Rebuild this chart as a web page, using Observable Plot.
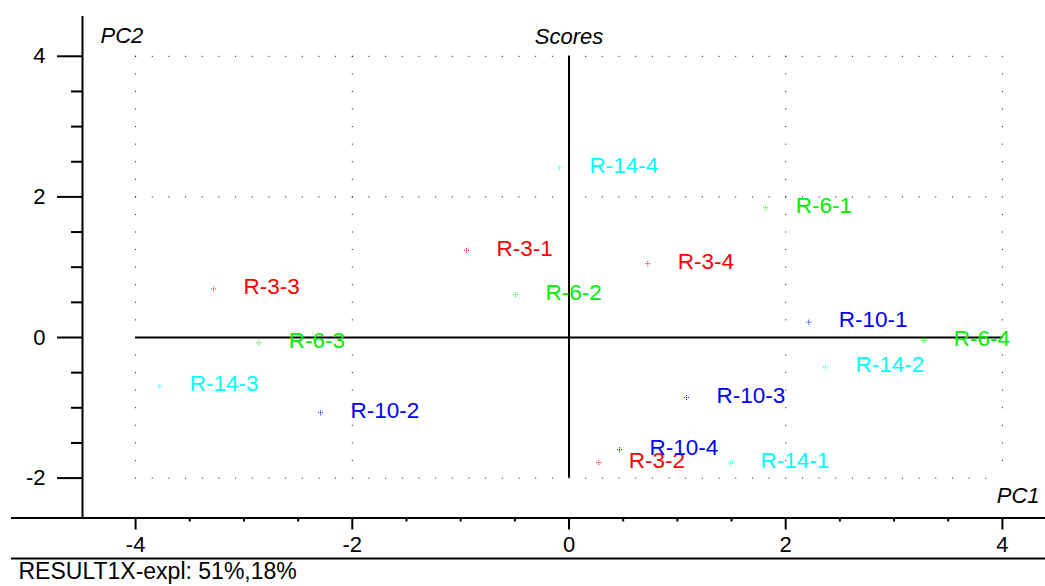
<!DOCTYPE html>
<html>
<head>
<meta charset="utf-8">
<script src="https://cdn.jsdelivr.net/npm/d3@7"></script>
<script src="https://cdn.jsdelivr.net/npm/@observablehq/plot@0.6"></script>
<style>
  html, body { margin: 0; padding: 0; background: #fff; }
</style>
</head>
<body>
<div id="chart"></div>
<script>
// PCA score values for each sample (PC1, PC2)
const samples = ["R-3-1", "R-3-2", "R-3-3", "R-3-4",
                 "R-6-1", "R-6-2", "R-6-3", "R-6-4",
                 "R-10-1", "R-10-2", "R-10-3", "R-10-4",
                 "R-14-1", "R-14-2", "R-14-3", "R-14-4"];
const pc1 = [-0.946, 0.275, -3.28, 0.727,
             1.816, -0.494, -2.863, 3.275,
             2.213, -2.293, 1.084, 0.466,
             1.49, 2.367, -3.777, -0.088];
const pc2 = [1.24, -1.78, 0.69, 1.05,
             1.845, 0.61, -0.075, -0.043,
             0.218, -1.071, -0.853, -1.597,
             -1.782, -0.422, -0.693, 2.414];
const groups = ["R-3", "R-6", "R-10", "R-14"];
const groupColors = ["#ff0000", "#00ee00", "#0000ff", "#00ffff"];

const majorX = [-4, -2, 0, 2, 4];
const minorX = [-3.5, -3, -2.5, -1.5, -1, -0.5, 0.5, 1, 1.5, 2.5, 3, 3.5];
const majorY = [-2, 0, 2, 4];
const minorY = [-1.5, -1, -0.5, 0.5, 1, 1.5, 2.5, 3, 3.5];

const title = "Scores";
const xTitle = "PC1";
const yTitle = "PC2";
const caption = "RESULT1X-expl: 51%,18%";

const rows = samples.map((name, i) => ({
  name, pc1: pc1[i], pc2: pc2[i], group: name.split("-").slice(0, 2).join("-")
}));

// Layout: pixel geometry of the plotting frame
const W = 1045, H = 586;
const mL = 82, mR = 0, mT = 16, mB = 68.5;
const x0px = 568.5, xUnit = 108.35;   // px of PC1 = 0, px per unit
const y0px = 337, yUnit = 70.3;       // px of PC2 = 0, px per unit
const xAt = px => (px - x0px) / xUnit;
const yAt = py => (y0px - py) / yUnit;
const xDomain = [xAt(mL), xAt(W - mR)];
const yDomain = [yAt(H - mB), yAt(mT)];

// Small crossed marker
const crossSymbol = {
  draw(context) {
    const r = 2.5;
    context.moveTo(-r, 0); context.lineTo(r, 0);
    context.moveTo(0, -r); context.lineTo(0, r);
  }
};

const fmt = d => `${d}`;
const font = "'Liberation Sans', Arial, Helvetica, sans-serif";

const chart = Plot.plot({
  width: W,
  height: H,
  marginLeft: mL,
  marginRight: mR,
  marginTop: mT,
  marginBottom: mB,
  style: { fontFamily: font, fontSize: "22px", color: "#000", background: "#fff", overflow: "visible" },
  x: { domain: xDomain, label: null },
  y: { domain: yDomain, label: null },
  color: { domain: groups, range: groupColors },
  marks: [
    // dotted grid
    Plot.ruleY(majorY, { x1: -4, x2: 4, stroke: "#000", strokeWidth: 1, strokeDasharray: "1,15.67" }),
    Plot.ruleX(majorX, { y1: 4, y2: -2, stroke: "#000", strokeWidth: 1, strokeDasharray: "1,16.57" }),
    // origin cross lines
    Plot.ruleY([0], { x1: -4, x2: 4, stroke: "#000", strokeWidth: 2 }),
    Plot.ruleX([0], { y1: 4, y2: -2, stroke: "#000", strokeWidth: 2 }),
    // axis lines
    Plot.ruleX([xDomain[0]], { y1: yDomain[0], y2: yDomain[1], stroke: "#000", strokeWidth: 2 }),
    Plot.ruleY([yDomain[0]], { x1: xAt(11), x2: xAt(W), stroke: "#000", strokeWidth: 2 }),
    Plot.ruleY([yAt(558)], { x1: xAt(11), x2: xAt(W), stroke: "#000", strokeWidth: 2 }),
    // ticks
    Plot.axisY(majorY, { anchor: "left", tickSize: 25, tickPadding: 12, strokeWidth: 2, tickFormat: fmt, label: null, fontSize: 22 }),
    Plot.axisY(minorY, { anchor: "left", tickSize: 11, strokeWidth: 2, tickFormat: () => "", label: null }),
    Plot.axisX(majorX, { anchor: "bottom", tickSize: 12, tickPadding: 6.5, strokeWidth: 2, tickFormat: fmt, label: null, fontSize: 22 }),
    Plot.axisX(minorX, { anchor: "bottom", tickSize: 4, strokeWidth: 2, tickFormat: () => "", label: null }),
    // sample points and names
    Plot.dot(rows, { x: "pc1", y: "pc2", stroke: "group", symbol: crossSymbol, r: 2.5, strokeWidth: 1, strokeDasharray: "1,1" }),
    Plot.text(rows, { x: "pc1", y: "pc2", text: "name", fill: "group", textAnchor: "start", dx: 30, dy: -2, fontSize: 22.5, fontFamily: font }),
    // titles
    Plot.text([yTitle], { frameAnchor: "top-left", textAnchor: "start", lineAnchor: "top", dx: 18, dy: 10.7, fontSize: 22, fontStyle: "italic", fontFamily: font }),
    Plot.text([title], { x: [0], frameAnchor: "top", textAnchor: "middle", lineAnchor: "top", dy: 12, fontSize: 22, fontStyle: "italic", fontFamily: font }),
    Plot.text([xTitle], { frameAnchor: "bottom-right", textAnchor: "end", lineAnchor: "bottom", dx: -6, dy: -15, fontSize: 22, fontStyle: "italic", fontFamily: font }),
    Plot.text([caption], { frameAnchor: "bottom-left", textAnchor: "start", lineAnchor: "bottom", dx: -64, dy: 61, fontSize: 23, fontFamily: font })
  ]
});

document.getElementById("chart").appendChild(chart);
</script>
</body>
</html>
